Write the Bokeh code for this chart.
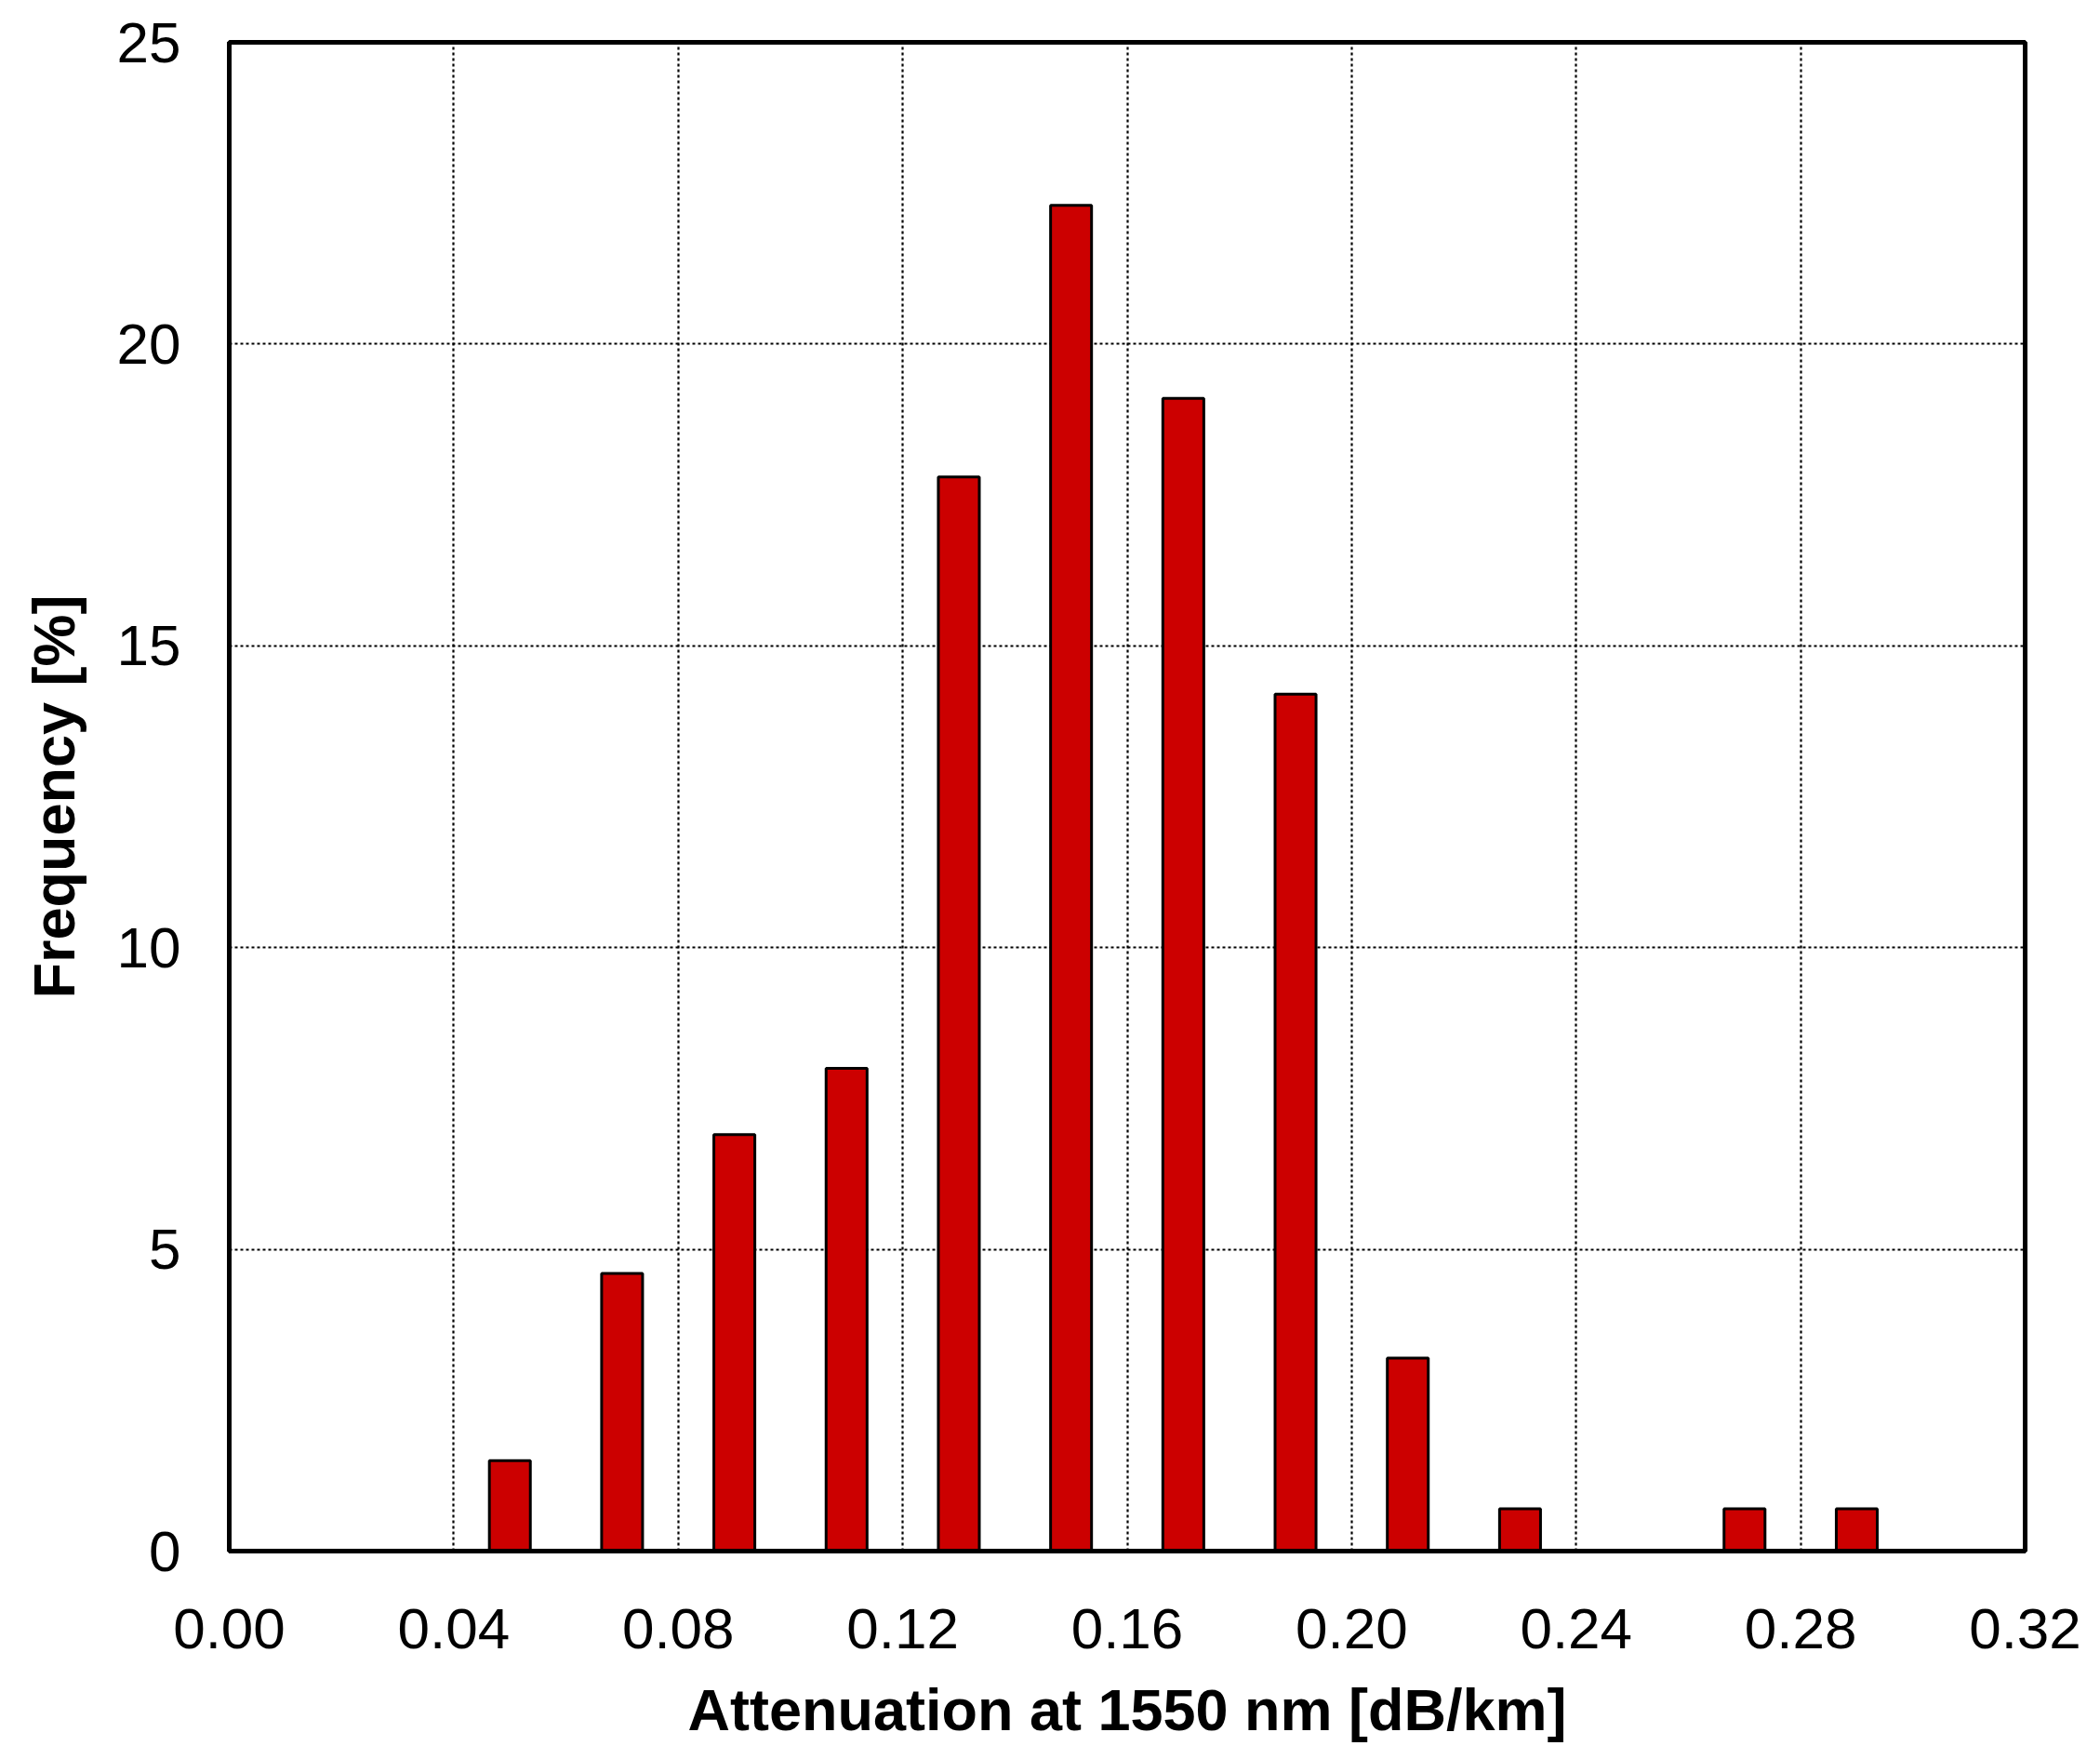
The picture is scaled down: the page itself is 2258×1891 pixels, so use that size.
from bokeh.plotting import figure
from bokeh.models import FixedTicker, NumeralTickFormatter
from bokeh.embed import file_html
from bokeh.resources import INLINE

# Data
bin_centers = [0.05, 0.07, 0.09, 0.11, 0.13, 0.15, 0.17, 0.19, 0.21, 0.23, 0.25, 0.27, 0.29]
frequency = [1.5, 4.6, 6.9, 8.0, 17.8, 22.3, 19.1, 14.2, 3.2, 0.7, 0.0, 0.7, 0.7]
x_ticks = [0.00, 0.04, 0.08, 0.12, 0.16, 0.20, 0.24, 0.28, 0.32]
y_ticks = [0, 5, 10, 15, 20, 25]

W, H = 2240, 1875
p = figure(width=W, height=H, output_backend="svg", toolbar_location=None,
           x_range=(0, 0.32), y_range=(0, 25),
           min_border_left=246, min_border_right=63,
           min_border_top=45, min_border_bottom=208)

p.vbar(x=[c for c, f in zip(bin_centers, frequency) if f > 0],
       top=[f for f in frequency if f > 0], width=0.0073, bottom=0,
       fill_color="#CC0000", line_color="black", line_width=3)

p.outline_line_color = "black"
p.outline_line_width = 5
p.background_fill_color = "white"
p.border_fill_color = "white"

font = "Liberation Sans"
for ax in (p.xaxis[0], p.yaxis[0]):
    ax.axis_line_color = "black"
    ax.axis_line_width = 5
    ax.major_tick_line_color = None
    ax.minor_tick_line_color = None
    ax.major_tick_in = 0
    ax.major_tick_out = 0
    ax.major_label_text_font = font
    ax.major_label_text_font_size = "62px"
    ax.major_label_text_color = "black"
    ax.axis_label_text_font = font
    ax.axis_label_text_font_size = "63px"
    ax.axis_label_text_font_style = "bold"
    ax.axis_label_text_color = "black"

p.xaxis.ticker = FixedTicker(ticks=x_ticks)
p.xaxis.formatter = NumeralTickFormatter(format="0.00")
p.yaxis.ticker = FixedTicker(ticks=y_ticks)
p.xaxis.axis_label = "Attenuation at 1550 nm [dB/km]"
p.yaxis.axis_label = "Frequency [%]"
p.xaxis.major_label_standoff = 62
p.yaxis.major_label_standoff = 52
p.xaxis.axis_label_standoff = 28
p.yaxis.axis_label_standoff = 30

p.xgrid.ticker = FixedTicker(ticks=x_ticks[1:-1])
p.ygrid.ticker = FixedTicker(ticks=y_ticks[1:-1])
for g in (p.xgrid[0], p.ygrid[0]):
    g.grid_line_color = "black"
    g.grid_line_width = 2.2
    g.grid_line_dash = "3 3"

open("out.html", "w").write(file_html(p, INLINE))
